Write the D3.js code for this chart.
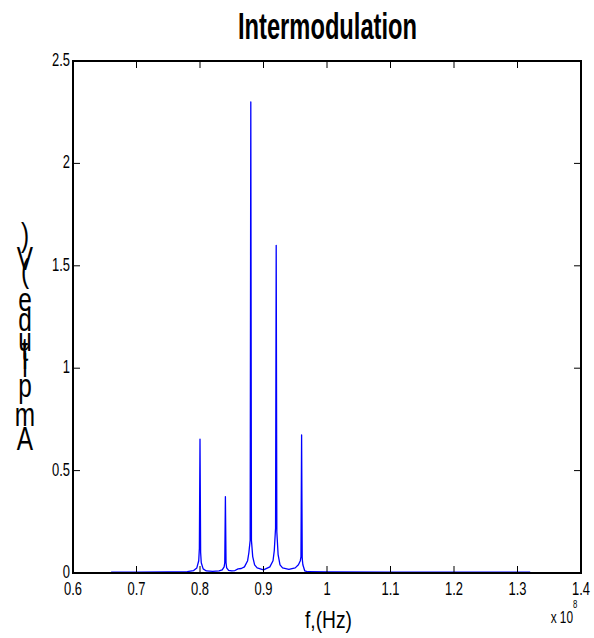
<!DOCTYPE html>
<html>
<head>
<meta charset="utf-8">
<script src="https://cdn.jsdelivr.net/npm/d3@7"></script>
<style>
  body { margin: 0; background: #fff; }
  svg text { font-family: Arial, "Liberation Sans", sans-serif; fill: #000; }
</style>
</head>
<body>
<div id="chart"></div>
<script>
// frequency in units of 1e8 Hz
const freqs = [0.66, 0.70, 0.75, 0.78, 0.79, 0.795, 0.798, 0.799, 0.800, 0.801, 0.802, 0.805,
  0.81, 0.82, 0.83, 0.835, 0.838, 0.839, 0.840, 0.841, 0.842, 0.845, 0.85, 0.855, 0.86,
  0.865, 0.87, 0.875, 0.877, 0.879, 0.880, 0.881, 0.883, 0.886, 0.89, 0.90, 0.91, 0.915,
  0.917, 0.919, 0.920, 0.921, 0.923, 0.926, 0.93, 0.94, 0.95, 0.955, 0.958, 0.959, 0.960,
  0.961, 0.962, 0.965, 0.97, 1.0, 1.1, 1.2, 1.32];
const amps = [0.004, 0.004, 0.005, 0.007, 0.012, 0.025, 0.06, 0.12, 0.653, 0.10, 0.05, 0.02,
  0.01, 0.008, 0.01, 0.015, 0.03, 0.05, 0.373, 0.05, 0.025, 0.013, 0.01, 0.012, 0.02,
  0.022, 0.03, 0.06, 0.10, 0.16, 2.30, 0.16, 0.08, 0.04, 0.025, 0.015, 0.03, 0.06,
  0.11, 0.22, 1.60, 0.20, 0.09, 0.04, 0.025, 0.018, 0.025, 0.04, 0.06, 0.08, 0.674,
  0.07, 0.04, 0.01, 0.006, 0.005, 0.004, 0.004, 0.004];

const xTicks = [0.6, 0.7, 0.8, 0.9, 1, 1.1, 1.2, 1.3, 1.4];
const yTicks = [0, 0.5, 1, 1.5, 2, 2.5];

const titleText = 'Intermodulation';
const xLabelText = 'f,(Hz)';
const yLabelText = 'Amplitude (V)';

const width = 594, height = 638;
const margin = {left: 73, right: 13, top: 61, bottom: 65};
const squeeze = 0.74; // the original text is horizontally condensed

const svg = d3.select('#chart').append('svg')
  .attr('width', width)
  .attr('height', height);

const x = d3.scaleLinear().domain([0.6, 1.4]).range([margin.left, width - margin.right]);
const y = d3.scaleLinear().domain([0, 2.5]).range([height - margin.bottom, margin.top]);

const x0 = x.range()[0], x1 = x.range()[1];
const y0 = y.range()[0], y1 = y.range()[1];
const tickLen = 7;

// condensed text helper
function label(g, tx, ty, str, size, anchor, bold){
  return g.append('text')
    .attr('transform', `translate(${tx},${ty}) scale(${squeeze},1)`)
    .attr('text-anchor', anchor)
    .style('font-size', size + 'px')
    .style('font-weight', bold ? 'bold' : 'normal')
    .text(str);
}

// spectrum line
const line = d3.line()
  .x((d, i) => x(freqs[i]))
  .y(d => y(d));

svg.append('path')
  .datum(amps)
  .attr('d', line)
  .attr('fill', 'none')
  .attr('stroke', '#0000ff')
  .attr('stroke-width', 1.3)
  .attr('stroke-linejoin', 'round');

// ticks, inside on all four sides
const ticks = svg.append('g').attr('stroke', '#000').attr('stroke-width', 1);
xTicks.forEach(t => {
  ticks.append('line').attr('x1', x(t)).attr('x2', x(t)).attr('y1', y0).attr('y2', y0 - tickLen);
  ticks.append('line').attr('x1', x(t)).attr('x2', x(t)).attr('y1', y1).attr('y2', y1 + tickLen);
});
yTicks.forEach(t => {
  ticks.append('line').attr('x1', x0).attr('x2', x0 + tickLen).attr('y1', y(t)).attr('y2', y(t));
  ticks.append('line').attr('x1', x1).attr('x2', x1 - tickLen).attr('y1', y(t)).attr('y2', y(t));
});

// axes box
svg.append('rect')
  .attr('x', x0).attr('y', y1)
  .attr('width', x1 - x0).attr('height', y0 - y1)
  .attr('fill', 'none')
  .attr('stroke', '#000')
  .attr('stroke-width', 2);

// tick labels
const tl = svg.append('g');
xTicks.forEach(t => label(tl, x(t), y0 + 22, d3.format('~g')(t), 17.5, 'middle'));
yTicks.forEach(t => label(tl, x0 - 3, y(t) + 5, d3.format('~g')(t), 17.5, 'end'));

// exponent note
label(svg, 573, 623, 'x 10', 16, 'end');
label(svg, 573, 608, '8', 10.5, 'start');

// title and x label
svg.append('text')
  .attr('x', 238).attr('y', 39)
  .attr('textLength', 179)
  .attr('lengthAdjust', 'spacingAndGlyphs')
  .style('font-size', '36px')
  .style('font-weight', 'bold')
  .text(titleText);

svg.append('text')
  .attr('x', 305).attr('y', 628)
  .attr('textLength', 47)
  .attr('lengthAdjust', 'spacingAndGlyphs')
  .style('font-size', '24px')
  .text(xLabelText);

// y label: upright glyphs stacked along the rotated advance (as in the source image)
const ySize = 33;
const measure = svg.append('text').style('font-size', ySize + 'px');
let pos = 450;
const yl = svg.append('g');
yLabelText.split('').forEach(ch => {
  measure.text(ch === ' ' ? '\u00a0' : ch);
  const adv = measure.node().getComputedTextLength() * 1.08;
  if (ch !== ' ') label(yl, 25, pos, ch, ySize, 'middle');
  pos -= adv;
});
measure.remove();
</script>
</body>
</html>
